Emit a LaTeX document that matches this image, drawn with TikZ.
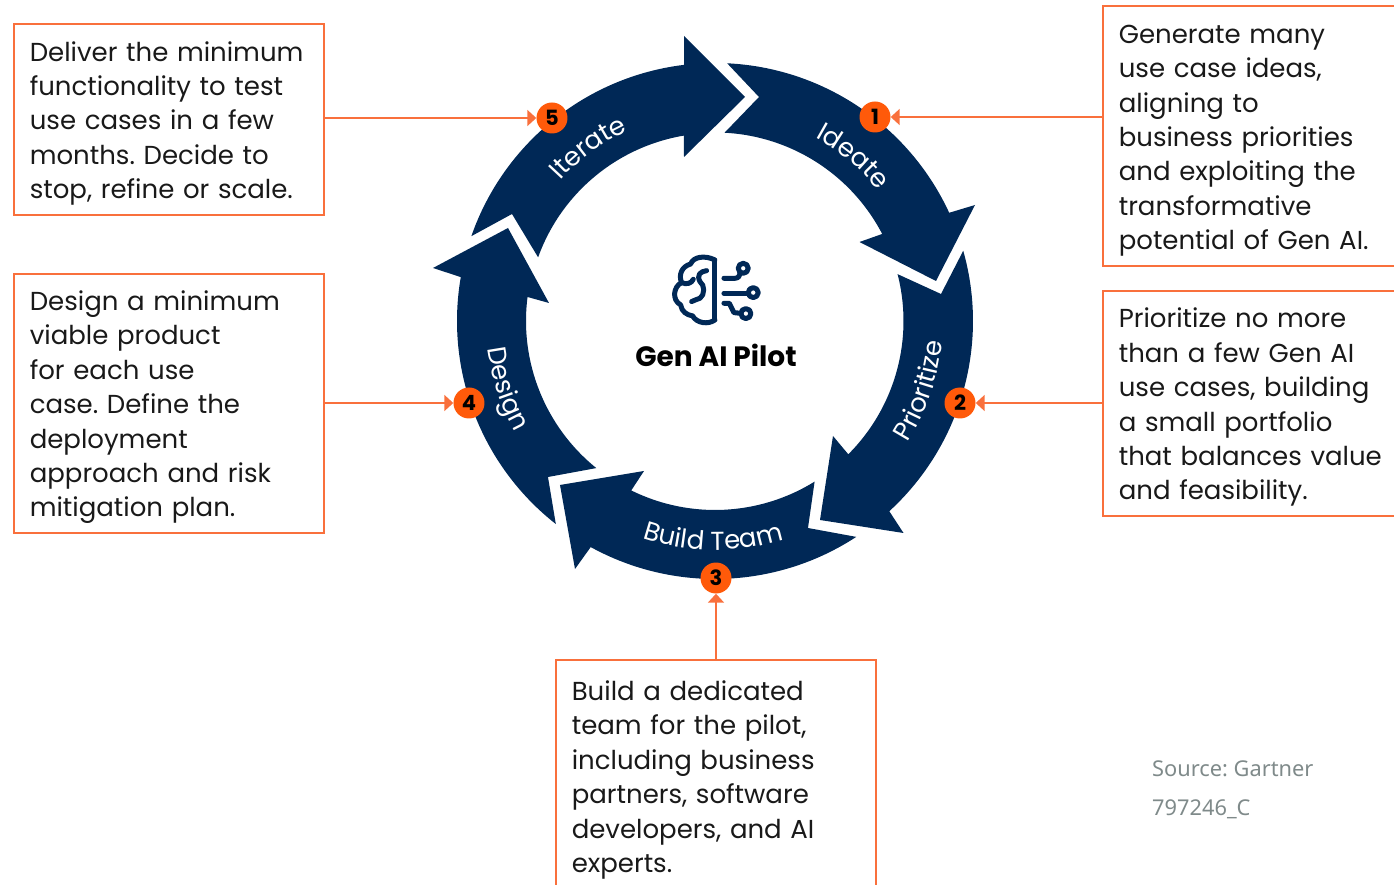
\documentclass[tikz,border=0pt]{standalone}
\usepackage{fontspec}
\setmainfont{Poppins}
\newfontfamily\notefont{Noto Sans}
\frenchspacing
\usetikzlibrary{arrows.meta,decorations.text}
\definecolor{ringblue}{HTML}{002856}
\definecolor{badgeorange}{HTML}{FF5A0A}
\definecolor{boxorange}{HTML}{F9703C}
\definecolor{sourcegray}{HTML}{7F8A8A}
\tikzset{
  boxnote/.style={draw=boxorange,line width=1.6pt,anchor=north west,align=left,inner xsep=16pt,inner ysep=0pt,
    font=\fontsize{26}{34.4}\selectfont,text=black!90,execute at begin node={\rule{0pt}{28pt}}},
  numbadge/.style={circle,fill=badgeorange,minimum size=31pt,inner sep=0pt,font=\fontsize{21}{21}\selectfont\bfseries},
  steplabel/.style={decorate,decoration={text along path,text align=center,text color=white,text={|\fontsize{26}{26}\selectfont|#1}}},
  link/.style={draw=boxorange,line width=1.8pt,-{Triangle[length=9pt,width=16pt]}},
  ringarrow/.style={fill=ringblue}
}
\begin{document}
\begin{tikzpicture}[x=1pt,y=1pt]
\useasboundingbox (-715,321) rectangle (679,-564);

% ring of five arrows, origin at the ring centre
\fill[ringarrow] (160.8:258) arc[start angle=160.8,end angle=96.9,radius=258] -- (-31,285) -- (30,224) -- (-31,164) -- (99.5:188) arc[start angle=99.5,end angle=160.2,radius=188] -- (-203,107) -- cycle;
\fill[ringarrow] (87.3:258) arc[start angle=87.3,end angle=24.8,radius=258] -- (260,116) -- (221,40) -- (144.5,79) -- (27.5:188.5) arc[start angle=27.5,end angle=87.1,radius=188.5] -- (44,224) -- cycle;
\fill[ringarrow] (15.8:258) arc[start angle=15.8,end angle=-47.5,radius=258] -- (188.5,-212) -- (105,-199) -- (118,-115) -- (-45:188.5) arc[start angle=-45,end angle=14.4,radius=188.5] -- (226,27) -- cycle;
\fill[ringarrow] (-56.8:258) arc[start angle=-56.8,end angle=-118.8,radius=258] -- (-140,-248) -- (-155,-164) -- (-71,-150) -- (-116.3:189) arc[start angle=-116.3,end angle=-58.2,radius=189] -- (93,-207) -- cycle;
\fill[ringarrow] (231.9:258) arc[start angle=231.9,end angle=170.2,radius=258] -- (-282,53) -- (-207,93) -- (-166,18) -- (172.7:189) arc[start angle=172.7,end angle=231.1,radius=189] -- (-167,-156) -- cycle;

% ring labels
\path[steplabel=Ideate] (80:209) arc[start angle=80,end angle=20,radius=209];
\path[steplabel=Prioritize] (-48.8:228) arc[start angle=-48.8,end angle=11.2,radius=228];
\path[steplabel=Build Team] (-120.5:229) arc[start angle=-120.5,end angle=-60.5,radius=229];
\path[steplabel=Design] (168:229) arc[start angle=168,end angle=228,radius=229];
\path[steplabel=Iterate] (156.2:209) arc[start angle=156.2,end angle=96.2,radius=209];

% numbered badges
\node[numbadge] (numideate) at (160,204) {1};
\node[numbadge] (numprioritize) at (245,-82) {2};
\node[numbadge] (numbuild) at (1,-257) {3};
\node[numbadge] (numdesign) at (-246,-82) {4};
\node[numbadge] (numiterate) at (-163,203) {5};

% text boxes
\node[boxnote,text width=275pt,minimum height=260pt] (boxideate) at (387,316) {Generate many\\use case ideas,\\aligning to\\business priorities\\and exploiting the\\transformative\\potential of Gen AI.};
\node[boxnote,text width=275pt,minimum height=225pt] (boxprioritize) at (387,31) {Prioritize no more\\than a few Gen AI\\use cases, building\\a small portfolio\\that balances value\\and feasibility.};
\node[boxnote,text width=288pt,minimum height=232pt] (boxbuild) at (-160,-338) {Build a dedicated\\team for the pilot,\\including business\\partners, software\\developers, and AI\\experts.};
\node[boxnote,text width=278pt,minimum height=259pt] (boxdesign) at (-702,48) {Design a minimum\\viable product\\for each use\\case. Define the\\deployment\\approach and risk\\mitigation plan.};
\node[boxnote,text width=278pt,minimum height=191pt] (boxiterate) at (-702,298) {Deliver the minimum\\functionality to test\\use cases in a few\\months. Decide to\\stop, refine or scale.};

% connectors
\draw[link] (boxideate.west |- numideate) -- (numideate);
\draw[link] (boxprioritize.west |- numprioritize) -- (numprioritize);
\draw[link] (boxbuild.north -| numbuild) -- (numbuild);
\draw[link] (boxdesign.east |- numdesign) -- (numdesign);
\draw[link] (boxiterate.east |- numiterate) -- (numiterate);

% brain icon
\begin{scope}[shift={(-65,81)},x=0.333pt,y=-0.333pt,draw=ringblue,line width=5pt,line cap=round,line join=round]
\draw (195,60) -- (195,240);
\draw (195,60) .. controls (165,45) and (130,50) .. (122,72) .. controls (95,80) and (85,105) .. (95,128) .. controls (70,140) and (65,180) .. (92,195) .. controls (95,215) and (110,225) .. (128,228) .. controls (140,250) and (175,255) .. (195,240);
\draw (95,128) .. controls (110,135) and (125,130) .. (130,118);
\draw (170,92) .. controls (150,95) and (140,105) .. (150,125) .. controls (165,135) and (165,165) .. (150,175) .. controls (135,180) and (125,185) .. (125,185);
\draw (222,115) -- (255,115) .. controls (265,115) and (270,108) .. (270,98);
\draw (280,85) circle[radius=15];
\draw (222,160) -- (293,160);
\draw (310,158) circle[radius=15];
\draw (222,190) -- (238,190) -- (252,218) -- (270,220);
\draw (288,221) circle[radius=15];
\end{scope}
\node[font=\fontsize{28}{28}\selectfont\bfseries,inner sep=0pt] (pilot) at (1,-34) {Gen AI Pilot};

% source note
\node[anchor=north west,align=left,inner sep=0pt,text=sourcegray,font=\notefont\fontsize{21.8}{39}\selectfont] (source) at (437,-440) {Source: Gartner\\797246\_C};
\end{tikzpicture}
\end{document}
